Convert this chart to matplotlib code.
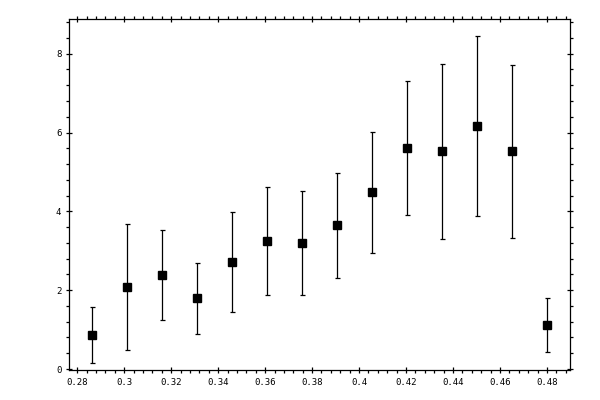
import matplotlib
matplotlib.use('Agg')
import matplotlib.pyplot as plt
from matplotlib.ticker import MultipleLocator, FixedLocator

# data
x = [0.2864, 0.3013, 0.3162, 0.3310, 0.3459, 0.3608, 0.3757,
     0.3905, 0.4054, 0.4203, 0.4351, 0.4500, 0.4649, 0.4800]
y = [0.86, 2.07, 2.38, 1.79, 2.71, 3.24, 3.20,
     3.65, 4.48, 5.60, 5.53, 6.16, 5.52, 1.11]
yerr = [0.71, 1.60, 1.14, 0.91, 1.27, 1.37, 1.31,
        1.33, 1.53, 1.70, 2.22, 2.29, 2.20, 0.69]

xticks = [0.28, 0.30, 0.32, 0.34, 0.36, 0.38, 0.40, 0.42, 0.44, 0.46, 0.48]
xticklabels = ['0.28', '0.3', '0.32', '0.34', '0.36', '0.38',
               '0.4', '0.42', '0.44', '0.46', '0.48']
yticks = [0, 2, 4, 6, 8]

plt.rcParams['font.family'] = 'DejaVu Sans Mono'

fig = plt.figure(figsize=(6, 4), dpi=100)
ax = fig.add_axes([69 / 600, 30 / 400, 501 / 600, 351 / 400])

ax.errorbar(x, y, yerr=yerr, fmt='s', color='black', ms=5.2,
            elinewidth=0.9, capsize=1.8, capthick=0.9)

ax.set_xlim(0.2765, 0.4898)
ax.set_ylim(-0.025, 8.88)

ax.xaxis.set_major_locator(FixedLocator(xticks))
ax.set_xticklabels(xticklabels)
ax.xaxis.set_minor_locator(MultipleLocator(0.004))
ax.yaxis.set_major_locator(FixedLocator(yticks))
ax.yaxis.set_minor_locator(MultipleLocator(0.4))

for s in ax.spines.values():
    s.set_linewidth(0.9)

ax.tick_params(which='major', direction='inout', length=5, width=0.9,
               top=True, right=True, labelsize=6.5, pad=3)
ax.tick_params(which='minor', direction='out', length=2.5, width=0.9,
               top=True, right=True)

fig.savefig('out.png', dpi=100)
